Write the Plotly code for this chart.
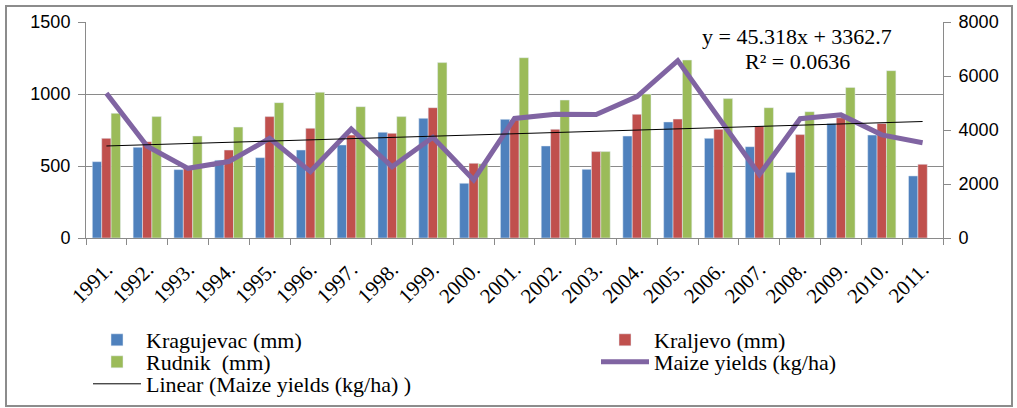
import plotly.graph_objects as go

years = ["1991.", "1992.", "1993.", "1994.", "1995.", "1996.", "1997.", "1998.", "1999.", "2000.",
         "2001.", "2002.", "2003.", "2004.", "2005.", "2006.", "2007.", "2008.", "2009.", "2010.", "2011."]
kragujevac = [530, 630, 475, 540, 558, 611, 646, 734, 831, 380, 824, 639, 477, 708, 806, 692, 634, 456, 796, 715, 431]
kraljevo = [692, 669, 495, 611, 843, 762, 715, 727, 905, 519, 820, 755, 600, 859, 826, 755, 778, 718, 835, 796, 512]
rudnik = [866, 843, 708, 770, 940, 1012, 912, 843, 1218, 515, 1252, 958, 600, 1000, 1236, 968, 905, 877, 1046, 1162, None]
maize = [5360, 3400, 2580, 2830, 3690, 2460, 4040, 2640, 3730, 2150, 4430, 4580, 4570, 5240, 6570, 4430, 2350, 4420, 4560, 3820, 3530]
trend_slope = 45.318
trend_intercept = 3362.7
left_ticks = [0, 500, 1000, 1500]
right_ticks = [0, 2000, 4000, 6000, 8000]

trend = [trend_slope * (i + 1) + trend_intercept for i in range(len(years))]

BLUE = "#4F81BD"
RED = "#C0504D"
GREEN = "#9BBB59"
PURPLE = "#8064A2"
GRID = "#8A8A8A"
SERIF = "Liberation Serif, Times New Roman, serif"
SANS = "Liberation Sans, Arial, sans-serif"
W, H = 1017, 408

fig = go.Figure()
fig.add_trace(go.Bar(x=years, y=kragujevac, name="Kragujevac (mm)", marker_color=BLUE, legend="legend"))
fig.add_trace(go.Bar(x=years, y=kraljevo, name="Kraljevo (mm)", marker_color=RED, legend="legend2"))
fig.add_trace(go.Bar(x=years, y=rudnik, name="Rudnik  (mm)", marker_color=GREEN, legend="legend3"))
fig.add_trace(go.Scatter(x=years, y=maize, name="Maize yields (kg/ha)", mode="lines",
                         line=dict(color=PURPLE, width=5), yaxis="y2", legend="legend4"))
fig.add_trace(go.Scatter(x=years, y=trend, name="Linear (Maize yields (kg/ha) )", mode="lines",
                         line=dict(color="black", width=1), yaxis="y2", legend="legend5"))


def leg(x_px, y_px):
    return dict(xref="container", yref="container", x=x_px / W, y=1 - y_px / H,
                xanchor="left", yanchor="middle", itemwidth=48,
                font=dict(family=SERIF, size=22, color="black"),
                bgcolor="rgba(0,0,0,0)", borderwidth=0)


fig.update_layout(
    width=W, height=H,
    margin=dict(l=86, r=74, t=22, b=170, autoexpand=False),
    paper_bgcolor="white", plot_bgcolor="white",
    barmode="group", bargap=0.31, bargroupgap=0,
    showlegend=True,
    legend=leg(88, 340),
    legend2=leg(596, 340),
    legend3=leg(88, 362),
    legend4=leg(596, 362),
    legend5=leg(88, 384),
    xaxis=dict(type="category", tickangle=-45, tickson="boundaries",
               ticks="outside", ticklen=6, tickcolor=GRID,
               showline=True, linecolor=GRID, linewidth=1,
               ticklabelstandoff=10,
               tickfont=dict(family=SERIF, size=21, color="black"),
               showgrid=False),
    yaxis=dict(range=[0, 1500], tickvals=left_ticks, ticks="outside", ticklen=7, tickcolor=GRID,
               showline=True, linecolor=GRID, linewidth=1, ticklabelstandoff=4,
               showgrid=True, gridcolor=GRID, gridwidth=1, zeroline=False,
               tickfont=dict(family=SANS, size=18, color="black")),
    yaxis2=dict(range=[0, 8000], tickvals=right_ticks, overlaying="y", side="right",
                ticks="outside", ticklen=7, tickcolor=GRID,
                showline=True, linecolor=GRID, linewidth=1, ticklabelstandoff=4,
                showgrid=False, zeroline=False,
                tickfont=dict(family=SANS, size=18, color="black")),
)

fig.add_annotation(text="y = 45.318x + 3362.7", xref="paper", yref="paper",
                   x=(797 - 86) / 857, y=(238 - 37) / 216, xanchor="center", yanchor="middle",
                   showarrow=False, font=dict(family=SERIF, size=22, color="black"))
fig.add_annotation(text="R² = 0.0636", xref="paper", yref="paper",
                   x=(797 - 86) / 857, y=(238 - 61) / 216, xanchor="center", yanchor="middle",
                   showarrow=False, font=dict(family=SERIF, size=22, color="black"))

fig.add_shape(type="rect", xref="paper", yref="paper",
              x0=(6 - 86) / 857, x1=(1012 - 86) / 857,
              y0=(238 - 406) / 216, y1=(238 - 6) / 216,
              line=dict(color="#8C8C8C", width=2), fillcolor="rgba(0,0,0,0)", layer="below")

fig.write_html("out.html", config={"displayModeBar": False},
               post_script="document.body.style.margin='0';")
